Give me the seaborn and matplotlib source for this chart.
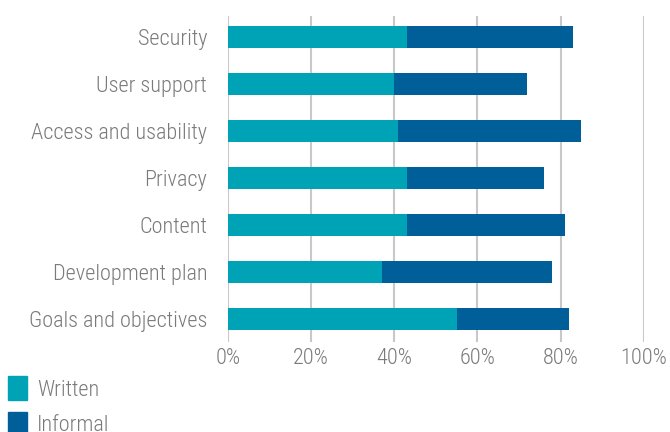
import matplotlib
matplotlib.use("Agg")
import matplotlib.pyplot as plt
import matplotlib.patches as mpatches
import pandas as pd
import seaborn as sns

# data (percent of respondents)
categorias = ["Security", "User support", "Access and usability", "Privacy",
              "Content", "Development plan", "Goals and objectives"]
written = [43, 40, 41, 43, 43, 37, 55]
informal = [40, 32, 44, 33, 38, 41, 27]
series = ["Written", "Informal"]
ticks = [0, 20, 40, 60, 80, 100]
tick_labels = ["0%", "20%", "40%", "60%", "80%", "100%"]

cor_written = "#00a3b5"
cor_informal = "#005e99"
cinza = "#7a7a7a"

df = pd.DataFrame({"categoria": categorias, "written": written, "informal": informal})
df["total"] = df["written"] + df["informal"]

sns.set_style("white")
plt.rcParams["font.family"] = ["Roboto Condensed", "DejaVu Sans"]
plt.rcParams["font.weight"] = 300

fig = plt.figure(figsize=(6.7, 4.32), dpi=100)
ax = fig.add_axes([228 / 670, 1 - 342 / 432, (643.7 - 228) / 670, (342 - 16) / 432])

# barras empilhadas: total (informal) por baixo, written por cima
sns.barplot(data=df, x="total", y="categoria", color=cor_informal, width=0.48,
            saturation=1, linewidth=0, ax=ax)
sns.barplot(data=df, x="written", y="categoria", color=cor_written, width=0.48,
            saturation=1, linewidth=0, ax=ax)

ax.set_xlim(0, 100)
ax.set_ylim(6.49, -0.45)
ax.set_xticks(ticks)
ax.set_xticklabels(tick_labels)
ax.set_xlabel("")
ax.set_ylabel("")
ax.set_axisbelow(True)
ax.grid(axis="x", color="#c8c8c8", linewidth=1.5)
ax.grid(axis="y", visible=False)
for s in ax.spines.values():
    s.set_visible(False)
ax.tick_params(axis="y", length=0, pad=15, labelsize=16, labelcolor=cinza)
ax.tick_params(axis="x", length=0, pad=4, labelsize=16, labelcolor=cinza)

handles = [mpatches.Patch(color=cor_written, label=series[0]),
           mpatches.Patch(color=cor_informal, label=series[1])]
fig.legend(handles=handles, loc="upper left", bbox_to_anchor=(8 / 670, 1 - 376 / 432),
           frameon=False, fontsize=16, labelcolor=cinza, handlelength=0.86,
           handleheight=1.3, handletextpad=0.45, labelspacing=0.5,
           borderpad=0, borderaxespad=0)

fig.savefig("out.png", dpi=100)
